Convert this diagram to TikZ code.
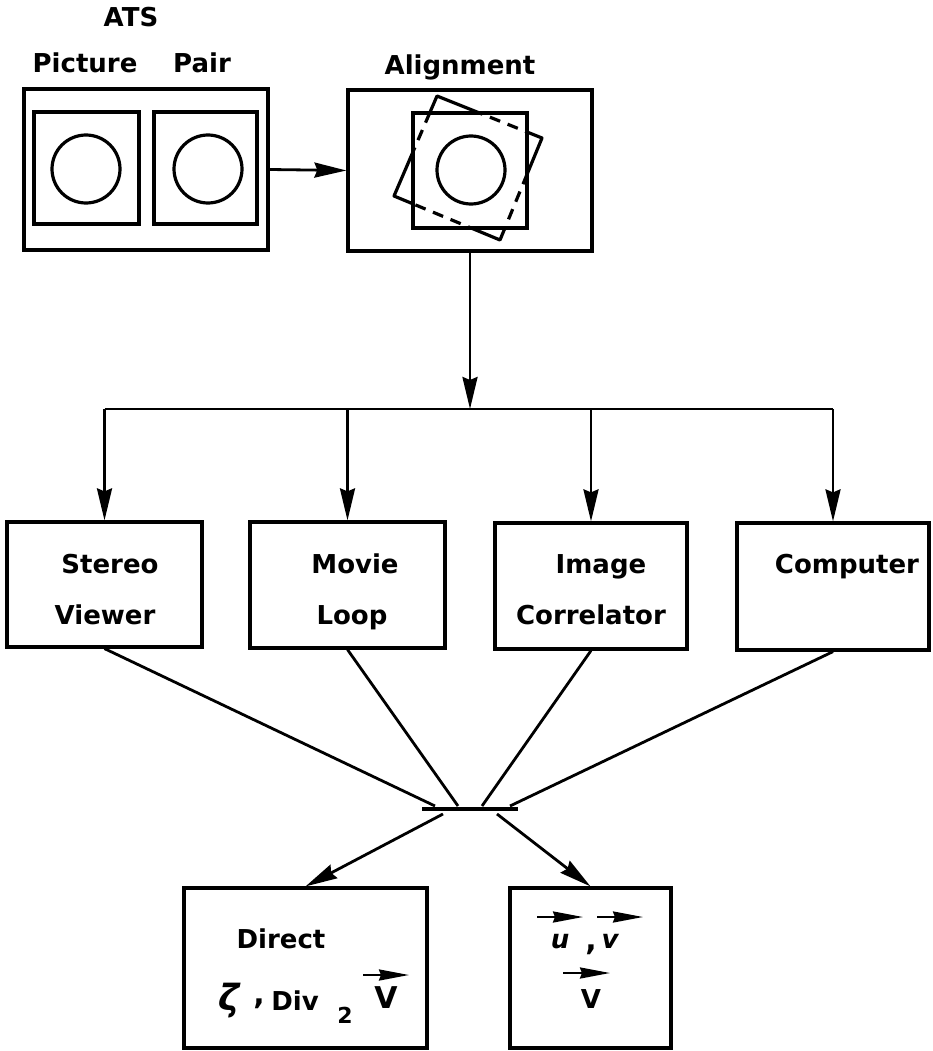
\documentclass[tikz,border=0pt]{standalone}
\usepackage{fontspec}
\setmainfont{DejaVu Sans}
\usetikzlibrary{arrows.meta,calc}
\tikzset{
  box/.style={draw, line width=3.2pt, rectangle, inner sep=0pt},
  lbl/.style={font=\fontsize{26}{30}\selectfont\bfseries, anchor=base, inner sep=0pt},
  wire/.style={line width=2.8pt},
  flow/.style={line width=2.8pt, -{Stealth[length=32pt,width=15pt,inset=3pt]}},
  vec/.style={line width=2.4pt, -{Stealth[length=30pt,width=11pt,inset=2pt]}},
  frame/.style={line width=3.2pt},
}
\begin{document}
\begin{tikzpicture}[x=1pt,y=-1pt]
\useasboundingbox (0,0) rectangle (933,1051);

% ---- picture pair ----
\node[lbl] (ats) at (131,27) {ATS};
\node[lbl] (pic) at (85,73) {Picture};
\node[lbl] (pair) at (202,73) {Pair};
\node[box, minimum width=244, minimum height=161] (pp) at (146,169.5) {};
\node[box, minimum width=105, minimum height=112] (sqa) at (86.5,168) {};
\node[box, minimum width=103, minimum height=112] (sqb) at (205.5,168) {};
\draw[frame] (86,169) circle (34);
\draw[frame] (208,169) circle (34);

% ---- alignment ----
\node[lbl] (alt) at (460,75) {Alignment};
\node[box, minimum width=244, minimum height=161] (al) at (470,170.5) {};
% tilted frame: solid outside, dashed behind the upright frame
\draw[frame, line join=round] (437,96) -- (542,138) -- (500,240) -- (394,196) -- cycle;
\node[box, fill=white, minimum width=114, minimum height=115] (alin) at (470,170.5) {};
\begin{scope}
  \clip (alin.south west) rectangle (alin.north east);
  \draw[frame, dash pattern=on 11pt off 8pt] (437,96) -- (542,138) -- (500,240) -- (394,196) -- cycle;
\end{scope}
\node[box, minimum width=114, minimum height=115] at (alin) {};
\draw[frame] (471,170) circle (34);

\draw[flow] (pp.east) -- (al.west);

% ---- viewing devices ----
\node[box, minimum width=195, minimum height=125] (sv) at (104.5,584.5) {};
\node[box, minimum width=195, minimum height=126] (ml) at (347.5,585) {};
\node[box, minimum width=192, minimum height=126] (ic) at (591,586) {};
\node[box, minimum width=192, minimum height=127] (cp) at (833,586.5) {};

\node[lbl] (sv1) at (110,573) {Stereo};
\node[lbl] (sv2) at (105,624) {Viewer};
\node[lbl] (ml1) at (355,573) {Movie};
\node[lbl] (ml2) at (352,624) {Loop};
\node[lbl] (ic1) at (601,573) {Image};
\node[lbl] (ic2) at (591,624) {Correlator};
\node[lbl] (cp1) at (847,573) {Computer};

\coordinate (bus) at (0,409);
\draw[flow] (al.south) -- (al.south |- bus);
\draw[wire] (sv.north |- bus) -- (cp.north |- bus);
\draw[flow] (sv.north |- bus) -- (sv.north);
\draw[flow] (ml.north |- bus) -- (ml.north);
\draw[flow] (ic.north |- bus) -- (ic.north);
\draw[flow] (cp.north |- bus) -- (cp.north);

% ---- merging bar ----
\node[fill, minimum width=96, minimum height=4, inner sep=0pt, outer sep=0pt] (bar) at (470,809) {};
\coordinate (j1) at (435,806);
\coordinate (j2) at (458,806);
\coordinate (j3) at (482,806);
\coordinate (j4) at (510,806);
\coordinate (o1) at (443,814);
\coordinate (o2) at (497,814);
\draw[wire] (sv.south) -- (j1);
\draw[wire] (ml.south) -- (j2);
\draw[wire] (ic.south) -- (j3);
\draw[wire] (cp.south) -- (j4);

% ---- results ----
\node[box, minimum width=243, minimum height=160] (dir) at (305.5,968) {};
\node[box, minimum width=161, minimum height=160] (vel) at (590.5,968) {};
\draw[flow] (o1) -- (dir.north);
\draw[flow] (o2) -- (vel.north);

\node[lbl] (d1) at (281,948) {Direct};
\node[lbl, font=\fontsize{36}{40}\selectfont\bfseries\itshape] (zeta) at (229,1010) {ζ};
\node[lbl, font=\fontsize{30}{34}\selectfont\bfseries] (cm1) at (259,1004) {,};
\node[lbl] (div) at (295,1010) {Div};
\node[lbl, font=\fontsize{22}{26}\selectfont\bfseries] (two) at (345,1023) {2};
\node[lbl, font=\fontsize{30}{34}\selectfont\bfseries] (vv) at (386,1008) {V};
\draw[vec] (363,975) -- (409,975);

\node[lbl, font=\fontsize{26}{30}\selectfont\bfseries\itshape] (uu) at (560,948) {u};
\node[lbl, font=\fontsize{30}{34}\selectfont\bfseries] (cm2) at (591,950) {,};
\node[lbl, font=\fontsize{26}{30}\selectfont\bfseries\itshape] (vl) at (610,948) {v};
\draw[vec] (537,917) -- (583,917);
\draw[vec] (597,917) -- (643,917);
\node[lbl] (vv2) at (591,1008) {V};
\draw[vec] (563,973) -- (610,973);
\end{tikzpicture}
\end{document}
